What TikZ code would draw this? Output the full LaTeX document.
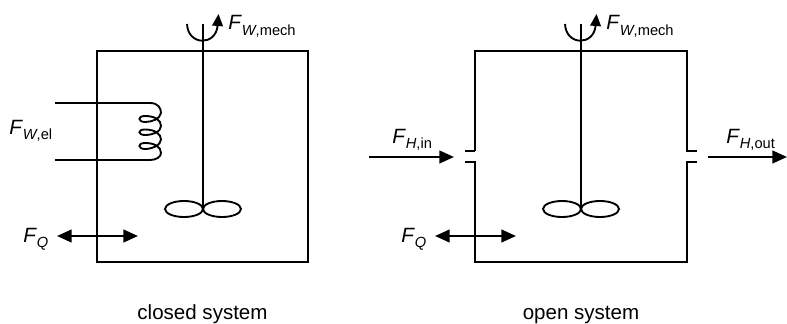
\documentclass[tikz,border=0pt]{standalone}
\usepackage{fontspec}
\setmainfont{Liberation Sans}
\usetikzlibrary{arrows.meta}
\newcommand{\flowlabel}[2]{\textit{F}\raisebox{-0.28em}{\fontsize{11}{11}\selectfont #1#2}}
\tikzset{
  wall/.style={black,line width=1.5pt},
  shaft/.style={black,line width=1.4pt},
  turn/.style={black,line width=1.4pt,-{Triangle[length=9pt,width=8pt]}},
  flow/.style={black,line width=1.7pt,-{Triangle[length=11pt,width=9.5pt]}},
  heat/.style={black,line width=1.7pt,{Triangle[length=11pt,width=9.5pt]}-{Triangle[length=11pt,width=9.5pt]}},
  lab/.style={anchor=base west,inner sep=0pt,font=\fontsize{15.5}{15.5}\selectfont},
  caption/.style={anchor=base,inner sep=0pt,font=\fontsize{15.4}{15.4}\selectfont}
}
\begin{document}
\begin{tikzpicture}[x=0.75pt,y=-0.75pt]
\useasboundingbox (0,0) rectangle (787,324);
% closed system
\coordinate (A1) at (97,51);
\coordinate (A2) at (308,51);
\coordinate (A3) at (308,262);
\coordinate (A4) at (97,262);
\coordinate (T1) at (203,24);
\coordinate (H1) at (203,209);
\coordinate (E1) at (184,209);
\coordinate (E2) at (222,209);
\coordinate (R1) at (187,24);
\coordinate (R2) at (218.5,14);
\coordinate (W1) at (55,103);
\coordinate (W2) at (150,103);
\coordinate (W3) at (55,160);
\coordinate (W4) at (150,160);
\coordinate (Q1) at (57,236);
\coordinate (Q2) at (138,236);
\draw[wall] (A1)--(A2)--(A3)--(A4)--cycle;
\draw[shaft] (T1)--(H1);
\draw[shaft] (E1) ellipse [x radius=19,y radius=8];
\draw[shaft] (E2) ellipse [x radius=19,y radius=8];
\draw[turn] (R1) .. controls (188,46) and (216,46) .. (R2);
\draw[shaft] (W1)--(W2) .. controls (158,103) and (161,108) .. (161,113) .. controls (160,119) and (152,122) .. (145,122) .. controls (138,122) and (137,116) .. (145,116) .. controls (155,116) and (161,120) .. (161,126) .. controls (161,132) and (152,135) .. (145,135) .. controls (138,135) and (137,129.5) .. (145,129.5) .. controls (155,129.5) and (161,134) .. (161,139.5) .. controls (161,145) and (152,149) .. (145,149) .. controls (138,149) and (137,143) .. (145,143) .. controls (155,143) and (161,147) .. (161,153) .. controls (161,157) and (156,160) .. (W4)--(W3);
\draw[heat] (Q1)--(Q2);
\node[lab] (Fmech1) at (228,30) {\flowlabel{\textit{W}}{,mech}};
\node[lab] (Fel) at (9,134) {\flowlabel{\textit{W}}{,el}};
\node[lab] (Fq1) at (23,242) {\flowlabel{\textit{Q}}{}};
\node[caption] (closed) at (202.5,319) {closed system};
% open system
\coordinate (B1) at (475,51);
\coordinate (B2) at (687,51);
\coordinate (B3) at (687,151);
\coordinate (B4) at (697,151);
\coordinate (B5) at (697,162);
\coordinate (B6) at (687,162);
\coordinate (B7) at (687,262);
\coordinate (B8) at (475,262);
\coordinate (B9) at (475,162);
\coordinate (B10) at (465,162);
\coordinate (B11) at (465,151);
\coordinate (B12) at (475,151);
\coordinate (T2) at (581,24);
\coordinate (H2) at (581,209);
\coordinate (E3) at (562,209);
\coordinate (E4) at (600,209);
\coordinate (R3) at (565,24);
\coordinate (R4) at (596.5,14);
\coordinate (I1) at (369,157);
\coordinate (I2) at (454,157);
\coordinate (O1) at (708,157);
\coordinate (O2) at (787,157);
\coordinate (Q3) at (435,236);
\coordinate (Q4) at (516,236);
\draw[wall] (B12)--(B1)--(B2)--(B3)--(B4) (B5)--(B6)--(B7)--(B8)--(B9)--(B10) (B11)--(B12);
\draw[shaft] (T2)--(H2);
\draw[shaft] (E3) ellipse [x radius=19,y radius=8];
\draw[shaft] (E4) ellipse [x radius=19,y radius=8];
\draw[turn] (R3) .. controls (566,46) and (594,46) .. (R4);
\draw[flow] (I1)--(I2);
\draw[flow] (O1)--(O2);
\draw[heat] (Q3)--(Q4);
\node[lab] (Fmech2) at (606,30) {\flowlabel{\textit{W}}{,mech}};
\node[lab] (Fin) at (392,143) {\flowlabel{\textit{H}}{,in}};
\node[lab] (Fout) at (726,143) {\flowlabel{\textit{H}}{,out}};
\node[lab] (Fq2) at (401,242) {\flowlabel{\textit{Q}}{}};
\node[caption] (open) at (581,319) {open system};
\end{tikzpicture}
\end{document}
